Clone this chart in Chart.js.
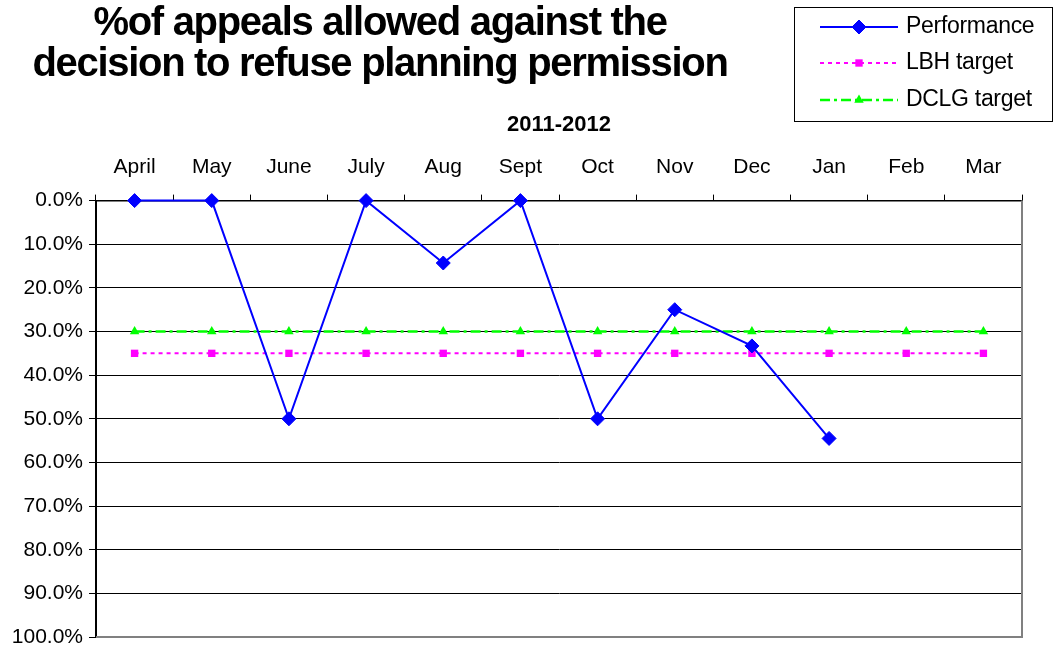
<!DOCTYPE html>
<html>
<head>
<meta charset="utf-8">
<script src="https://cdn.jsdelivr.net/npm/chart.js"></script>
<style>
  html, body { margin: 0; padding: 0; background: #fff; }
  canvas { display: block; }
</style>
</head>
<body>
<canvas id="appeals" width="1054" height="648"></canvas>
<script>
const months = ['April', 'May', 'June', 'July', 'Aug', 'Sept', 'Oct', 'Nov', 'Dec', 'Jan', 'Feb', 'Mar']
const seriesNames = ['Performance', 'LBH target', 'DCLG target']
const performance = [0, 0, 50, 0, 14.3, 0, 50, 25, 33.3, 54.5, null, null]
const lbhTarget = [35, 35, 35, 35, 35, 35, 35, 35, 35, 35, 35, 35]
const dclgTarget = [30, 30, 30, 30, 30, 30, 30, 30, 30, 30, 30, 30]
const titleLines = ['%of appeals allowed against the', 'decision to refuse planning permission']
const yearLabel = '2011-2012'

const FONT = '"Liberation Sans", Arial, sans-serif'

// title, legend box and the grey right/bottom frame
const decorations = {
  id: 'decorations',
  beforeDatasetsDraw(chart) {
    const { ctx, chartArea } = chart
    ctx.save()
    ctx.strokeStyle = '#808080'
    ctx.lineWidth = 2
    ctx.beginPath()
    ctx.moveTo(chartArea.left, chartArea.bottom)
    ctx.lineTo(chartArea.right, chartArea.bottom)
    ctx.lineTo(chartArea.right, chartArea.top)
    ctx.stroke()
    ctx.restore()
  },
  afterDraw(chart) {
    const { ctx } = chart
    ctx.save()

    // title
    ctx.fillStyle = '#000'
    ctx.font = 'bold 40px ' + FONT
    ctx.textAlign = 'center'
    ctx.textBaseline = 'alphabetic'
    if ('letterSpacing' in ctx) ctx.letterSpacing = '-1.3px'
    ctx.fillText(titleLines[0], 380, 35)
    ctx.fillText(titleLines[1], 380, 76)
    if ('letterSpacing' in ctx) ctx.letterSpacing = '0px'

    // legend
    ctx.strokeStyle = '#000'
    ctx.lineWidth = 1
    ctx.strokeRect(794.5, 7.5, 258, 114)
    const rows = [27, 63, 100]
    chart.data.datasets.forEach((ds, i) => {
      const y = rows[i]
      ctx.save()
      ctx.strokeStyle = ds.borderColor
      ctx.lineWidth = ds.borderWidth
      ctx.setLineDash(ds.borderDash || [])
      ctx.beginPath()
      ctx.moveTo(820, y)
      ctx.lineTo(898, y)
      ctx.stroke()
      ctx.setLineDash([])
      ctx.fillStyle = ds.pointBackgroundColor
      ctx.strokeStyle = ds.pointBorderColor
      ctx.lineWidth = ds.pointBorderWidth
      Chart.helpers.drawPoint(ctx, {
        pointStyle: ds.pointStyle,
        radius: ds.pointRadius,
        borderWidth: ds.pointBorderWidth,
        rotation: 0
      }, 859, y)
      ctx.restore()
      ctx.fillStyle = '#000'
      ctx.font = '23px ' + FONT
      ctx.textAlign = 'left'
      ctx.textBaseline = 'middle'
      if ('letterSpacing' in ctx) ctx.letterSpacing = '-0.3px'
      ctx.fillText(ds.label, 906, y)
      if ('letterSpacing' in ctx) ctx.letterSpacing = '0px'
    })
    ctx.restore()
  }
}

new Chart(document.getElementById('appeals'), {
  type: 'line',
  data: {
    labels: months,
    datasets: [
      {
        label: seriesNames[0],
        data: performance,
        borderColor: '#0000FF',
        backgroundColor: '#0000FF',
        borderWidth: 2,
        pointStyle: 'rectRot',
        pointRadius: 7,
        pointBackgroundColor: '#0000FF',
        pointBorderColor: '#0000FF',
        pointBorderWidth: 1,
        clip: false
      },
      {
        label: seriesNames[1],
        data: lbhTarget,
        borderColor: '#FF00FF',
        backgroundColor: '#FF00FF',
        borderWidth: 2,
        borderDash: [4, 4],
        pointStyle: 'rect',
        pointRadius: 5.2,
        pointBackgroundColor: '#FF00FF',
        pointBorderColor: '#FF00FF',
        pointBorderWidth: 0,
        clip: false
      },
      {
        label: seriesNames[2],
        data: dclgTarget,
        borderColor: '#00FF00',
        backgroundColor: '#00FF00',
        borderWidth: 2.5,
        borderDash: [10, 4, 3, 4],
        pointStyle: 'triangle',
        pointRadius: 5.5,
        pointBackgroundColor: '#00FF00',
        pointBorderColor: '#00FF00',
        pointBorderWidth: 0,
        clip: false
      }
    ]
  },
  options: {
    responsive: false,
    animation: false,
    devicePixelRatio: 1,
    layout: {
      padding: { left: 0, right: 32, top: 112, bottom: 11 }
    },
    elements: {
      line: { tension: 0 }
    },
    plugins: {
      legend: { display: false },
      title: { display: false },
      tooltip: { enabled: false }
    },
    scales: {
      x: {
        position: 'top',
        offset: true,
        grid: {
          offset: true,
          drawOnChartArea: false,
          drawTicks: true,
          tickLength: 6,
          tickColor: '#000',
          tickWidth: 1
        },
        border: { display: true, color: '#000', width: 1.5 },
        ticks: {
          color: '#000',
          font: { family: FONT, size: 21 },
          padding: 15,
          maxRotation: 0,
          autoSkip: false
        },
        title: {
          display: true,
          text: yearLabel,
          color: '#000',
          font: { family: FONT, size: 22, weight: 'bold' },
          padding: { top: 0, bottom: 1 }
        },
        afterFit(scale) {
          scale.paddingLeft = 0
          scale.paddingRight = 0
        }
      },
      y: {
        reverse: true,
        min: 0,
        max: 100,
        grid: {
          color: '#000',
          lineWidth: 1,
          drawTicks: true,
          tickLength: 7,
          tickColor: '#000'
        },
        border: { display: true, color: '#000', width: 2 },
        ticks: {
          stepSize: 10,
          color: '#000',
          font: { family: FONT, size: 21 },
          padding: 6,
          callback: (v) => v.toFixed(1) + '%'
        },
        afterFit(scale) {
          scale.width = 96
          scale.paddingTop = 0
          scale.paddingBottom = 0
        }
      }
    }
  },
  plugins: [decorations]
})
</script>
</body>
</html>
